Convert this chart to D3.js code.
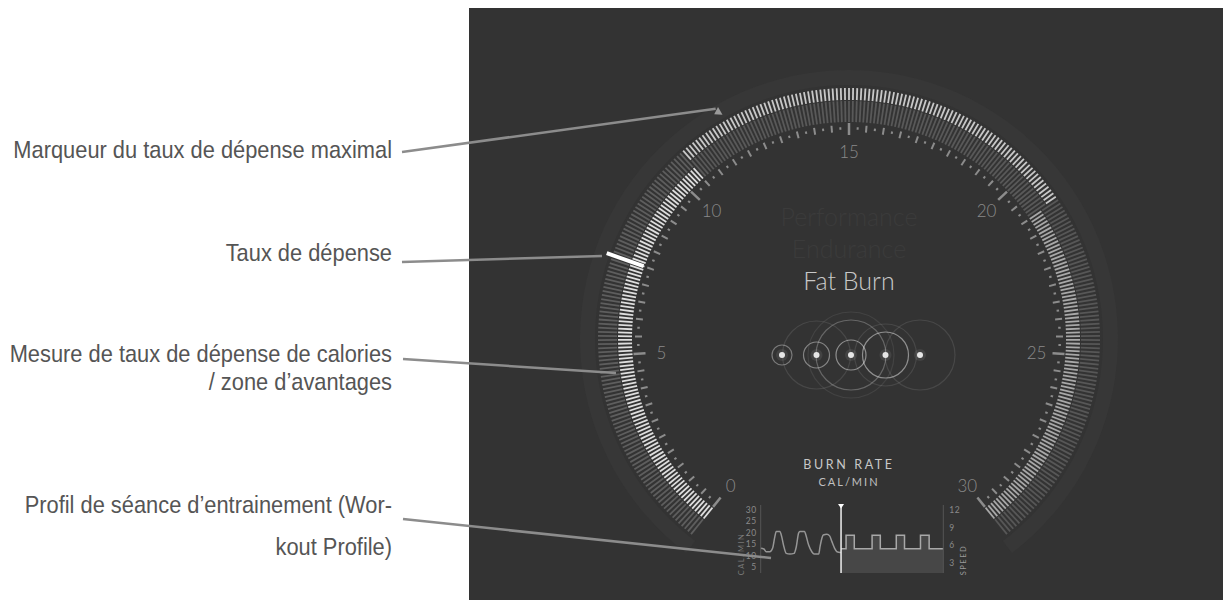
<!DOCTYPE html>
<html>
<head>
<meta charset="utf-8"/>
<title>Burn rate</title>
<script src="https://cdn.jsdelivr.net/npm/d3@7"></script>
<style>
    body { margin: 0; background: #ffffff; width: 1223px; height: 600px; overflow: hidden; }
    svg { display: block; }
    .note { font-family: "Liberation Sans", Arial, sans-serif; fill: #555555; font-size: 24px; }
    .lato { font-family: Lato, "Open Sans", sans-serif; }
</style>
</head>
<body>
<svg id="chart" width="1223" height="600"></svg>
<script>
// gauge values (cal/min)
var gaugeLabels = [0, 5, 10, 15, 20, 25, 30];
var currentRate = 7.5;
var maxRate = 11.8;

// benefit zones on the gauge
var zoneNames = ["Fat Burn", "Endurance", "Performance"];
var zoneFrom = [0, 10.6, 21];
var zoneTo = [10.6, 21, 30];
var activeZone = "Fat Burn";

// workout profile: calories so far
var calTime = [0, 0.7, 1.2, 2.0, 2.6, 3.1, 3.4, 4.2, 4.6, 5.0, 5.6, 6.4, 7.3, 7.8, 8.3, 8.6, 9.6, 9.9, 10.5, 11.2, 11.7, 12.7, 13.0, 13.4, 13.7, 14.5, 15.1, 15.6, 16.2, 16.7, 17.4, 17.6];
var calValues = [13.2, 12.9, 11.7, 11.7, 13.2, 18.3, 20.5, 20.5, 18.3, 14.6, 11.0, 10.7, 11.0, 13.9, 19.8, 20.5, 20.5, 19.0, 14.6, 11.7, 10.7, 10.7, 13.9, 17.6, 19.0, 19.3, 18.6, 16.1, 13.2, 11.7, 11.4, 11.4];
// workout profile: planned speed
var speedTime = [17.6, 18.7, 20.5, 24.4, 26.2, 29.7, 31.5, 35.0, 36.9, 40];
var speedValues = [5.4, 7.7, 5.4, 7.7, 5.4, 7.7, 5.4, 7.7, 5.4, 5.4];
var nowTime = 17.6;
var calTicks = [5, 10, 15, 20, 25, 30];
var speedTicks = [3, 6, 9, 12];

// zone dots and their rings
var dotCount = 5;
var ringDot = [0, 1, 1, 2, 2, 2, 3, 3, 4];
var ringRadius = [10, 13, 34, 15, 35, 43, 23, 31, 35];
var ringAlpha = [0.35, 0.4, 0.1, 0.45, 0.25, 0.08, 0.45, 0.1, 0.1];

var svg = d3.select("#chart");

// dark panel
svg.append("rect").attr("x", 469).attr("y", 8).attr("width", 754).attr("height", 592).attr("fill", "#333333");

var cx = 849, cy = 339;
var ang = d3.scaleLinear().domain([0, 30]).range([-141, 141]);
function pt(v, r) {
    var a = ang(v) * Math.PI / 180;
    return [cx + r * Math.sin(a), cy - r * Math.cos(a)];
}
function zoneOf(v) {
    for (var i = 0; i < zoneNames.length; i++) if (v >= zoneFrom[i] && v < zoneTo[i]) return i;
    return zoneNames.length - 1;
}

var g = svg.append("g").attr("class", "gauge");

// outer faint band
g.append("path")
    .attr("transform", "translate(" + cx + "," + cy + ")")
    .attr("d", d3.arc().innerRadius(254).outerRadius(269)
        .startAngle(ang(0) * Math.PI / 180 - 0.03).endAngle(ang(30) * Math.PI / 180 + 0.03)())
    .attr("fill", "#373737");

// radial bars, split in an inner and an outer segment
var segs = [
    [[217, 231, "#dedede"], [232, 251, "#5e5e5e"]],
    [[217, 238, "#595959"], [239, 251, "#c8c8c8"]],
    [[217, 231, "#a8a8a8"], [232, 251, "#575757"]]
];
var barVals = d3.range(0, 30.0001, 0.1);
barVals.forEach(function (v) {
    segs[zoneOf(v)].forEach(function (s) {
        var p0 = pt(v, s[0]), p1 = pt(v, s[1]);
        g.append("line")
            .attr("x1", p0[0]).attr("y1", p0[1]).attr("x2", p1[0]).attr("y2", p1[1])
            .attr("stroke", s[2]).attr("stroke-width", 1.8);
    });
});

// scale ticks
d3.range(0, 30.0001, 0.25).forEach(function (v) {
    var major = Math.abs(v % 5) < 1e-6, half = Math.abs(v % 0.5) < 1e-6;
    var r0 = major ? 204 : (half ? 207 : 209.5);
    var r1 = major ? 216 : (half ? 214 : 212);
    var p0 = pt(v, r0), p1 = pt(v, r1);
    g.append("line")
        .attr("x1", p0[0]).attr("y1", p0[1]).attr("x2", p1[0]).attr("y2", p1[1])
        .attr("stroke", "#8c8c8c").attr("stroke-width", major ? 2.5 : 2);
});

g.selectAll("text.num").data(gaugeLabels).enter().append("text")
    .attr("class", "num lato")
    .attr("x", function (d) { return pt(d, 188)[0]; })
    .attr("y", function (d) { return pt(d, 188)[1]; })
    .attr("text-anchor", "middle").attr("dominant-baseline", "central")
    .attr("font-size", 17).attr("font-weight", 300).attr("fill", "#8a8a8a")
    .text(function (d) { return d; });

// current rate
var c0 = pt(currentRate, 218), c1 = pt(currentRate, 257);
g.append("line").attr("x1", c0[0]).attr("y1", c0[1]).attr("x2", c1[0]).attr("y2", c1[1])
    .attr("stroke", "#ffffff").attr("stroke-width", 4);

// max rate marker
var m = pt(maxRate, 262);
g.append("path").attr("d", "M-4,0 L3,-4.5 L3,4.5 Z")
    .attr("transform", "translate(" + m[0] + "," + m[1] + ") rotate(" + ang(maxRate) + ")")
    .attr("fill", "#9a9a9a");

// zone names
zoneNames.slice().reverse().forEach(function (n, i) {
    g.append("text").attr("class", "lato")
        .attr("x", cx).attr("y", 226 + i * 32)
        .attr("text-anchor", "middle").attr("font-size", 25).attr("font-weight", 300)
        .attr("fill", n == activeZone ? "#c8c8c8" : "#3b3b3b")
        .text(n);
});

// dots and rings
var dotX = d3.scalePoint().domain(d3.range(dotCount)).range([782, 920]);
var dotY = 355;
ringDot.forEach(function (d, i) {
    g.append("circle").attr("cx", dotX(d)).attr("cy", dotY).attr("r", ringRadius[i])
        .attr("fill", "none").attr("stroke", "#ffffff").attr("stroke-opacity", ringAlpha[i]).attr("stroke-width", 1.2);
});
d3.range(dotCount).forEach(function (d) {
    g.append("circle").attr("cx", dotX(d)).attr("cy", dotY).attr("r", 6).attr("fill", "#ffffff").attr("opacity", 0.08);
    g.append("circle").attr("cx", dotX(d)).attr("cy", dotY).attr("r", 3).attr("fill", "#e6e6e6");
});

// burn rate title
g.append("text").attr("class", "lato").attr("x", cx).attr("y", 469).attr("text-anchor", "middle")
    .attr("font-size", 12.5).attr("letter-spacing", 2.6).attr("fill", "#c8c8c8").text("BURN RATE");
g.append("text").attr("class", "lato").attr("x", cx).attr("y", 486).attr("text-anchor", "middle")
    .attr("font-size", 11).attr("letter-spacing", 2).attr("fill", "#c0c0c0").text("CAL/MIN");

// workout profile
var px = d3.scaleLinear().domain([0, 40]).range([760.7, 943.3]);
var pyCal = d3.scaleLinear().domain([2.5, 32]).range([573, 505]);
var pySpeed = d3.scaleLinear().domain([1.3, 12.8]).range([573, 505]);

var wp = svg.append("g").attr("class", "profile");

var speedPts = speedTime.map(function (t, i) { return [t, speedValues[i]]; });
wp.append("path").datum(speedPts)
    .attr("d", d3.area().curve(d3.curveStepAfter)
        .x(function (d) { return px(d[0]); }).y0(573).y1(function (d) { return pySpeed(d[1]); }))
    .attr("fill", "#474747");
wp.append("path").datum(speedPts)
    .attr("d", d3.line().curve(d3.curveStepAfter)
        .x(function (d) { return px(d[0]); }).y(function (d) { return pySpeed(d[1]); }))
    .attr("fill", "none").attr("stroke", "#a8a8a8").attr("stroke-width", 1.5);

var calPts = calTime.map(function (t, i) { return [t, calValues[i]]; });
wp.append("path").datum(calPts)
    .attr("d", d3.line().curve(d3.curveMonotoneX)
        .x(function (d) { return px(d[0]); }).y(function (d) { return pyCal(d[1]); }))
    .attr("fill", "none").attr("stroke", "#969696").attr("stroke-width", 1.5);

var axL = wp.append("g").attr("transform", "translate(" + px(0) + ",0)")
    .call(d3.axisLeft(pyCal).tickValues(calTicks).tickSize(0).tickPadding(4));
var axR = wp.append("g").attr("transform", "translate(" + px(40) + ",0)")
    .call(d3.axisRight(pySpeed).tickValues(speedTicks).tickSize(0).tickPadding(6));
[axL, axR].forEach(function (a) {
    a.select(".domain").attr("stroke", "#555555").attr("stroke-width", 1);
    a.selectAll("text").attr("fill", "#8a8a8a").attr("font-size", 8.5)
        .attr("font-family", "Lato, sans-serif").attr("letter-spacing", 0.5);
});
axL.select(".domain").attr("d", "M0,505V573");
axR.select(".domain").attr("d", "M0,505V573");

wp.append("text").attr("class", "lato")
    .attr("transform", "translate(744,554) rotate(-90)").attr("text-anchor", "middle")
    .attr("font-size", 7.5).attr("letter-spacing", 1.5).attr("fill", "#7a7a7a").text("CAL/MIN");
wp.append("text").attr("class", "lato")
    .attr("transform", "translate(966,560) rotate(-90)").attr("text-anchor", "middle")
    .attr("font-size", 7.5).attr("letter-spacing", 1.5).attr("fill", "#9a9a9a").text("SPEED");

wp.append("line").attr("x1", px(nowTime)).attr("x2", px(nowTime)).attr("y1", 505).attr("y2", 573)
    .attr("stroke", "#f0f0f0").attr("stroke-width", 1.5);
wp.append("path").attr("d", "M-3,504 L3,504 L0,508.5 Z")
    .attr("transform", "translate(" + px(nowTime) + ",0)").attr("fill", "#ffffff");

// annotations
var notes = [
    { lines: ["Marqueur du taux de dépense maximal"], y: 158, from: [402, 152], to: pt(maxRate, 266) },
    { lines: ["Taux de dépense"], y: 261, from: [402, 262], to: [602, 256] },
    { lines: ["Mesure de taux de dépense de calories"], y: 362, from: [403, 359], to: [616, 373] },
    { lines: ["/ zone d’avantages"], y: 390 },
    { lines: ["Profil de séance d’entrainement (Wor-"], y: 513, from: [403, 519], to: [771, 558] },
    { lines: ["kout Profile)"], y: 555 }
];
notes.forEach(function (n) {
    n.lines.forEach(function (l) {
        svg.append("text").attr("class", "note")
            .attr("transform", "translate(392," + n.y + ") scale(0.91,1)")
            .attr("text-anchor", "end").text(l);
    });
    if (n.from) {
        svg.append("line").attr("x1", n.from[0]).attr("y1", n.from[1]).attr("x2", n.to[0]).attr("y2", n.to[1])
            .attr("stroke", "#8c8c8c").attr("stroke-width", 2.5);
    }
});
</script>
</body>
</html>
